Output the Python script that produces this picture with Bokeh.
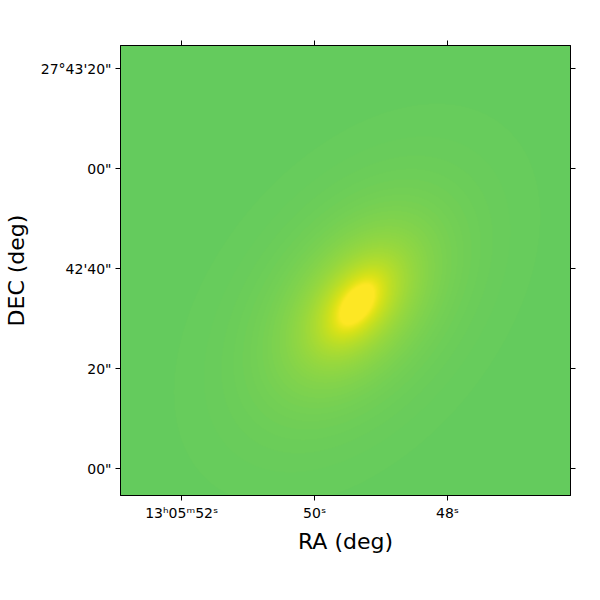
import numpy as np
from bokeh.plotting import figure
from bokeh.models import Range1d, LinearAxis, FixedTicker, LinearColorMapper
from bokeh.palettes import Viridis256
from bokeh.embed import file_html
from bokeh.resources import INLINE

# ---- axis extents: RA in seconds past 13h05m, Dec in arcsec past 27d42'00"
ra_left, ra_right = 52.92, 46.15
dec_bottom, dec_top = -5.4, 84.6
dec_ref_deg = 27.70

ra_ticks = [52, 50, 48]
ra_tick_labels = ["13\u02b005\u1d5052\u02e2", "50\u02e2", "48\u02e2"]
dec_ticks = [80, 60, 40, 20, 0]
dec_tick_labels = ["27\u00b043'20\"", "00\"", "42'40\"", "20\"", "00\""]

# ---- galaxy model parameters
gal_ra = 49.36          # s
gal_dec = 32.8          # arcsec
bg_level = 0.762
# compact elongated core (exponential)
core_amp = 0.26
core_scale = 2.4        # arcsec
core_axis_ratio = 0.48
core_pa_deg = 55.0
# extended disc (exponential)
disc_amp = 0.31
disc_scale = 10.4       # arcsec
disc_axis_ratio = 0.62
disc_pa_deg = 51.0
n_pix = 450

# ---- build image (x = -RA so that RA increases to the left)
x0, x1 = -ra_left, -ra_right
xs = np.linspace(x0, x1, n_pix)
ys = np.linspace(dec_bottom, dec_top, n_pix)
X, Y = np.meshgrid(xs, ys)
sec_to_arcsec = 15.0 * np.cos(np.radians(dec_ref_deg))
dx = (X + gal_ra) * sec_to_arcsec
dy = Y - gal_dec


def ell_radius(pa_deg, q):
    phi = np.radians(pa_deg)
    u = dx * np.cos(phi) + dy * np.sin(phi)
    v = -dx * np.sin(phi) + dy * np.cos(phi)
    return np.sqrt(u ** 2 + (v / q) ** 2)


r_core = ell_radius(core_pa_deg, core_axis_ratio)
r_disc = ell_radius(disc_pa_deg, disc_axis_ratio)
img = (bg_level
       + core_amp * np.exp(-r_core / core_scale)
       + disc_amp * np.exp(-r_disc / disc_scale))

mapper = LinearColorMapper(palette=Viridis256, low=0.0, high=1.0)

p = figure(frame_width=450, frame_height=450,
           x_range=Range1d(x0, x1), y_range=Range1d(dec_bottom, dec_top),
           output_backend="svg", toolbar_location=None,
           min_border_left=115, min_border_top=45, min_border_right=19,
           min_border_bottom=89)
p.image(image=[img], x=x0, y=dec_bottom, dw=x1 - x0, dh=dec_top - dec_bottom,
        color_mapper=mapper)

p.grid.visible = False
p.outline_line_color = "black"
p.outline_line_width = 1
p.background_fill_color = "white"

xt = [-t for t in ra_ticks]
xaxis = p.xaxis[0]
xaxis.ticker = FixedTicker(ticks=xt)
xaxis.major_label_overrides = {t: lab for t, lab in zip(xt, ra_tick_labels)}
yaxis = p.yaxis[0]
yaxis.ticker = FixedTicker(ticks=dec_ticks)
yaxis.major_label_overrides = {t: lab for t, lab in zip(dec_ticks, dec_tick_labels)}

top = LinearAxis(ticker=FixedTicker(ticks=xt),
                 major_label_overrides={t: "" for t in xt},
                 major_label_standoff=0)
right = LinearAxis(ticker=FixedTicker(ticks=dec_ticks),
                   major_label_overrides={t: "" for t in dec_ticks},
                   major_label_standoff=0)
p.add_layout(top, "above")
p.add_layout(right, "right")

for ax in [xaxis, yaxis, top, right]:
    ax.major_tick_out = 5
    ax.major_tick_in = 0
    ax.minor_tick_line_color = None
    ax.axis_line_color = "black"
    ax.major_tick_line_color = "black"
    ax.major_label_text_font = "DejaVu Sans"
    ax.major_label_text_color = "black"
    ax.major_label_text_font_size = "14px"

for ax in [xaxis, yaxis]:
    ax.major_label_standoff = 4
    ax.axis_label_text_font = "DejaVu Sans"
    ax.axis_label_text_font_size = "22px"
    ax.axis_label_text_font_style = "normal"
    ax.axis_label_text_color = "black"

xaxis.axis_label = "RA (deg)"
xaxis.axis_label_standoff = 5
yaxis.axis_label = "DEC (deg)"
yaxis.axis_label_standoff = 9

open("out.html", "w").write(file_html(p, INLINE))
